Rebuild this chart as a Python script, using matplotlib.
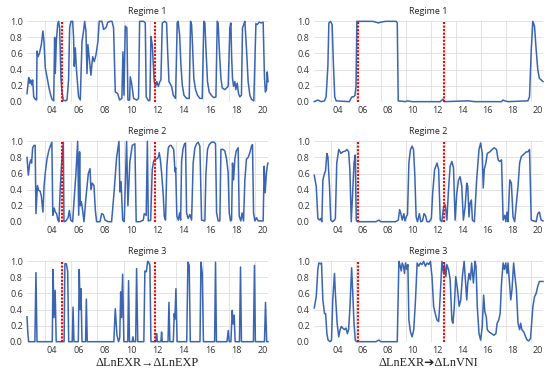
import matplotlib
matplotlib.use('Agg')
import matplotlib.pyplot as plt

# Regime probabilities, x = year (04 = 2004), y = probability
exp_r1 = [(2.10, 0.10), (2.23, 0.30), (2.30, 0.23), (2.38, 0.27), (2.45, 0.21), (2.53, 0.27), (2.61, 0.06),
          (2.73, 0.03), (2.83, 0.02), (2.86, 0.63), (2.94, 0.56), (3.04, 0.60), (3.19, 0.71), (3.31, 0.88),
          (3.39, 0.75), (3.49, 0.42), (3.62, 0.31), (3.75, 0.19), (3.87, 0.10), (4.00, 0.03), (4.13, 0.01),
          (4.20, 0.80), (4.25, 0.35), (4.33, 0.75), (4.43, 0.96), (4.50, 1.00), (4.58, 0.92), (4.68, 0.29),
          (4.76, 0.12), (4.86, 0.02), (5.01, 0.01), (5.14, 0.02), (5.26, 0.27), (5.34, 0.92), (5.44, 1.00),
          (5.57, 1.00), (5.64, 0.80), (5.69, 0.44), (5.77, 0.67), (5.85, 0.42), (5.95, 0.21), (6.02, 0.06),
          (6.15, 0.02), (6.28, 0.75), (6.40, 0.88), (6.48, 1.00), (6.58, 0.88), (6.66, 0.35), (6.73, 0.71),
          (6.86, 0.50), (6.96, 0.33), (7.09, 0.56), (7.21, 0.50), (7.34, 0.58), (7.49, 0.75), (7.59, 1.00),
          (7.80, 1.00), (7.92, 0.90), (8.10, 0.92), (8.25, 0.99), (8.43, 1.00), (8.56, 1.00), (8.68, 0.92),
          (8.81, 0.12), (8.99, 0.10), (9.14, 0.02), (9.31, 0.04), (9.39, 0.62), (9.47, 0.08), (9.57, 0.94),
          (9.69, 0.92), (9.77, 0.02), (9.90, 0.02), (9.95, 0.31), (10.07, 0.21), (10.20, 0.04), (10.45, 0.02),
          (10.58, 0.04), (10.66, 1.00), (10.96, 1.00), (11.09, 0.98), (11.16, 0.06), (11.34, 0.01), (11.44, 0.02),
          (11.52, 0.81), (11.62, 0.71), (11.77, 0.25), (11.87, 0.19), (11.97, 0.25), (12.08, 0.19), (12.20, 0.25),
          (12.28, 0.27), (12.38, 0.98), (12.58, 1.00), (12.71, 0.98), (12.78, 0.67), (12.89, 0.25), (13.09, 0.19),
          (13.22, 0.08), (13.39, 0.04), (13.52, 0.98), (13.59, 1.00), (13.70, 0.83), (13.80, 0.46), (13.90, 0.21),
          (14.03, 0.08), (14.23, 0.04), (14.43, 0.04), (14.53, 1.00), (14.61, 0.96), (14.68, 0.71), (14.78, 0.29),
          (14.91, 0.15), (15.06, 0.08), (15.24, 0.04), (15.42, 0.04), (15.54, 1.00), (15.62, 0.98), (15.70, 0.67),
          (15.82, 0.25), (15.95, 0.12), (16.13, 0.075), (16.30, 0.05), (16.46, 0.06), (16.56, 1.00), (16.63, 0.98),
          (16.71, 0.67), (16.84, 0.29), (16.94, 0.17), (17.14, 0.15), (17.39, 0.19), (17.52, 0.92), (17.60, 0.98),
          (17.65, 0.58), (17.72, 0.29), (17.80, 0.19), (17.90, 0.25), (17.97, 0.15), (18.08, 0.23), (18.18, 0.10),
          (18.28, 0.06), (18.40, 0.08), (18.48, 0.92), (18.58, 0.96), (18.66, 1.00), (18.78, 0.67), (18.91, 0.25),
          (19.04, 0.08), (19.16, 0.03), (19.34, 0.01), (19.50, 0.97), (19.60, 0.96), (19.75, 0.99), (19.90, 0.98),
          (20.05, 0.99), (20.15, 0.30), (20.22, 0.12), (20.30, 0.15), (20.36, 0.37), (20.42, 0.25)]

exp_r2 = [(2.10, 0.80), (2.20, 0.58), (2.30, 0.72), (2.38, 0.77), (2.45, 0.73), (2.53, 0.92), (2.63, 0.95),
          (2.72, 0.95), (2.78, 0.10), (2.89, 0.45), (2.99, 0.39), (3.10, 0.38), (3.19, 0.32), (3.31, 0.12),
          (3.40, 0.45), (3.49, 0.61), (3.62, 0.78), (3.75, 0.88), (3.87, 0.94), (3.99, 0.99), (4.06, 0.08),
          (4.16, 0.17), (4.25, 0.12), (4.35, 0.10), (4.45, 0.02), (4.53, 0.00), (4.62, 0.40), (4.73, 0.72),
          (4.86, 0.99), (4.91, 0.00), (5.06, 0.01), (5.22, 0.05), (5.32, 0.14), (5.42, 0.02), (5.57, 0.00),
          (5.67, 0.25), (5.82, 0.60), (5.95, 1.00), (6.03, 0.08), (6.10, 0.87), (6.15, 0.20), (6.23, 0.25),
          (6.32, 0.15), (6.43, 0.00), (6.58, 0.30), (6.76, 0.60), (6.89, 0.66), (6.96, 0.40), (7.06, 0.48),
          (7.19, 0.45), (7.29, 0.15), (7.39, 0.00), (7.65, 0.00), (7.77, 0.10), (7.90, 0.09), (8.03, 0.02),
          (8.28, 0.00), (8.53, 0.00), (8.71, 0.35), (8.91, 0.80), (9.09, 1.00), (9.16, 0.37), (9.25, 0.50),
          (9.37, 0.02), (9.49, 0.00), (9.67, 1.00), (9.77, 0.20), (9.92, 0.75), (10.10, 0.95), (10.30, 0.97),
          (10.40, 0.00), (10.68, 0.00), (10.94, 0.02), (11.01, 0.10), (11.16, 0.08), (11.25, 1.00), (11.32, 0.01),
          (11.50, 0.02), (11.62, 0.65), (11.72, 0.75), (11.82, 0.78), (11.95, 0.78), (12.08, 0.80), (12.15, 0.86),
          (12.23, 0.78), (12.33, 0.61), (12.46, 0.32), (12.53, 0.07), (12.63, 0.02), (12.73, 0.69), (12.84, 0.92),
          (12.96, 0.95), (13.05, 0.95), (13.25, 0.90), (13.35, 0.62), (13.40, 0.67), (13.49, 0.07), (13.60, 0.02),
          (13.70, 0.11), (13.78, 0.02), (13.85, 0.75), (13.95, 0.90), (14.05, 0.96), (14.15, 0.98), (14.23, 0.11),
          (14.35, 0.04), (14.48, 0.09), (14.61, 0.02), (14.73, 0.73), (14.86, 0.92), (14.99, 0.97), (15.11, 0.99),
          (15.24, 0.94), (15.37, 0.02), (15.62, 0.01), (15.70, 0.60), (15.82, 0.90), (15.95, 0.96), (16.13, 0.99),
          (16.33, 0.99), (16.43, 0.97), (16.51, 0.11), (16.63, 0.01), (16.76, 0.01), (16.84, 0.90), (17.01, 0.90),
          (17.14, 0.88), (17.27, 0.78), (17.39, 0.61), (17.47, 0.11), (17.58, 0.01), (17.65, 0.02), (17.72, 0.73),
          (17.80, 0.52), (17.90, 0.78), (18.00, 0.88), (18.15, 0.92), (18.23, 0.07), (18.35, 0.01), (18.45, 0.11),
          (18.56, 0.01), (18.66, 0.52), (18.78, 0.78), (18.91, 0.80), (19.04, 0.86), (19.16, 0.94), (19.24, 0.96),
          (19.32, 0.11), (19.42, 0.01), (19.54, 0.05), (19.67, 0.01), (20.05, 0.01), (20.13, 0.69), (20.20, 0.36),
          (20.30, 0.61), (20.38, 0.71), (20.42, 0.73)]

exp_r3 = [(2.10, 0.31), (2.16, 0.12), (2.22, 0.00), (2.70, 0.00), (2.78, 0.86), (2.86, 0.00), (4.02, 0.00),
          (4.08, 0.90), (4.15, 0.30), (4.24, 0.64), (4.32, 0.00), (4.92, 0.00), (4.98, 0.97), (5.09, 0.97),
          (5.19, 0.88), (5.27, 0.00), (5.54, 0.00), (5.60, 0.43), (5.67, 0.00), (6.00, 0.00), (6.07, 0.90),
          (6.14, 0.40), (6.20, 0.66), (6.28, 0.00), (6.55, 0.00), (6.61, 0.53), (6.68, 0.00), (8.70, 0.00),
          (8.81, 0.41), (8.94, 0.08), (9.06, 0.00), (9.15, 0.05), (9.22, 0.62), (9.28, 0.30), (9.37, 0.84),
          (9.46, 0.00), (9.76, 0.00), (9.82, 0.76), (9.89, 0.00), (10.10, 0.00), (10.15, 0.06), (10.22, 0.00),
          (10.36, 0.00), (10.43, 0.91), (10.52, 0.00), (10.98, 0.00), (11.06, 0.88), (11.17, 0.87), (11.27, 1.00),
          (11.34, 0.99), (11.44, 0.95), (11.52, 0.00), (11.90, 0.00), (11.95, 0.10), (12.01, 0.00), (12.28, 0.00),
          (12.33, 0.12), (12.38, 0.00), (12.82, 0.00), (12.89, 0.49), (12.96, 0.00), (13.22, 0.00), (13.29, 0.35),
          (13.34, 0.28), (13.42, 0.66), (13.51, 0.00), (14.24, 0.00), (14.33, 0.99), (14.43, 0.95), (14.51, 0.00),
          (15.25, 0.00), (15.32, 0.99), (15.42, 0.86), (15.51, 0.00), (16.36, 0.00), (16.43, 0.99), (16.50, 0.00),
          (17.30, 0.00), (17.40, 0.14), (17.47, 0.00), (17.60, 0.00), (17.70, 0.39), (17.77, 0.22), (17.85, 0.33),
          (17.92, 0.00), (18.25, 0.00), (18.33, 0.93), (18.40, 0.00), (19.31, 0.00), (19.39, 0.95), (19.46, 0.00),
          (20.15, 0.00), (20.23, 0.49), (20.32, 0.00), (20.42, 0.00)]

vni_r1 = [(2.12, 0.00), (2.41, 0.02), (2.68, 0.00), (2.94, 0.01), (3.07, 0.06), (3.21, 0.44), (3.29, 0.98),
          (3.42, 1.00), (3.55, 0.96), (3.66, 0.44), (3.76, 0.06), (3.87, 0.01), (4.93, 0.00), (5.06, 0.04),
          (5.14, 0.06), (5.27, 0.06), (5.38, 0.08), (5.46, 0.19), (5.53, 1.00), (6.78, 1.00), (7.04, 0.99),
          (7.25, 0.98), (7.44, 0.99), (7.84, 1.00), (8.68, 1.00), (8.76, 0.98), (8.84, 0.01), (9.42, 0.00),
          (9.56, 0.01), (9.95, 0.00), (12.20, 0.00), (12.41, 0.03), (12.52, 0.00), (14.45, 0.01), (14.98, 0.00),
          (17.10, 0.00), (17.23, 0.02), (17.36, 0.01), (17.62, 0.00), (19.21, 0.01), (19.34, 0.06), (19.48, 0.65),
          (19.61, 1.00), (19.74, 0.94), (19.87, 0.65), (20.00, 0.40), (20.13, 0.29), (20.27, 0.27), (20.42, 0.25)]

vni_r2 = [(2.12, 0.58), (2.28, 0.44), (2.41, 0.04), (2.55, 0.02), (2.63, 0.04), (2.73, 0.00), (2.81, 0.52),
          (2.94, 0.60), (3.02, 0.63), (3.13, 0.85), (3.21, 0.81), (3.34, 0.44), (3.44, 0.02), (3.60, 0.00),
          (3.74, 0.02), (3.81, 0.04), (3.92, 0.73), (4.08, 0.90), (4.26, 0.85), (4.40, 0.87), (4.60, 0.88),
          (4.74, 0.90), (4.87, 0.87), (4.97, 0.65), (5.08, 0.00), (5.19, 0.35), (5.30, 0.73), (5.40, 0.83),
          (5.48, 0.02), (5.59, 0.00), (7.04, 0.00), (7.31, 0.02), (7.44, 0.00), (8.63, 0.00), (8.84, 0.02),
          (8.95, 0.15), (9.05, 0.10), (9.16, 0.02), (9.29, 0.10), (9.38, 0.01), (9.48, 0.06), (9.58, 0.09),
          (9.69, 0.73), (9.82, 0.90), (9.95, 0.94), (10.06, 0.90), (10.16, 0.60), (10.27, 0.06), (10.38, 0.00),
          (10.53, 0.10), (10.64, 0.00), (10.78, 0.01), (10.90, 0.10), (11.01, 0.08), (11.14, 0.00), (11.33, 0.00),
          (11.49, 0.04), (11.59, 0.35), (11.75, 0.65), (11.94, 0.73), (12.07, 0.65), (12.20, 0.02), (12.33, 0.00),
          (12.47, 0.19), (12.60, 0.21), (12.73, 0.02), (12.86, 0.40), (12.99, 0.69), (13.13, 0.75), (13.26, 0.67),
          (13.39, 0.02), (13.52, 0.35), (13.66, 0.52), (13.79, 0.56), (13.92, 0.44), (14.05, 0.02), (14.19, 0.19),
          (14.32, 0.48), (14.40, 0.44), (14.50, 0.06), (14.58, 0.23), (14.69, 0.27), (14.77, 0.02), (14.93, 0.00),
          (15.11, 0.52), (15.30, 0.90), (15.43, 0.98), (15.56, 0.85), (15.64, 0.42), (15.72, 0.65), (15.85, 0.73),
          (15.96, 0.85), (16.17, 0.87), (16.35, 0.90), (16.51, 0.92), (16.70, 0.90), (16.83, 0.77), (16.96, 0.75),
          (17.10, 0.77), (17.23, 0.02), (17.36, 0.08), (17.45, 0.00), (17.54, 0.12), (17.62, 0.00), (17.76, 0.52),
          (17.89, 0.48), (18.02, 0.06), (18.15, 0.00), (18.29, 0.23), (18.42, 0.44), (18.55, 0.73), (18.68, 0.81),
          (18.81, 0.83), (18.95, 0.85), (19.08, 0.87), (19.21, 0.87), (19.34, 0.90), (19.48, 0.02), (19.87, 0.00),
          (20.00, 0.10), (20.13, 0.12), (20.27, 0.02), (20.42, 0.01)]

vni_r3 = [(2.12, 0.42), (2.28, 0.56), (2.41, 0.90), (2.49, 0.98), (2.62, 0.97), (2.70, 0.98), (2.81, 0.52),
          (2.94, 0.35), (3.03, 0.35), (3.13, 0.10), (3.23, 0.02), (3.39, 0.00), (3.50, 0.02), (3.60, 0.52),
          (3.74, 0.85), (3.81, 0.60), (3.95, 0.23), (4.08, 0.06), (4.19, 0.15), (4.29, 0.19), (4.40, 0.17),
          (4.53, 0.15), (4.66, 0.17), (4.77, 0.10), (4.87, 0.15), (4.98, 0.44), (5.11, 0.92), (5.19, 0.65),
          (5.30, 0.23), (5.40, 0.02), (5.51, 0.00), (7.04, 0.00), (7.31, 0.02), (7.44, 0.00), (8.76, 0.00),
          (8.89, 1.00), (8.97, 0.96), (9.08, 0.88), (9.16, 0.98), (9.26, 0.94), (9.34, 0.85), (9.42, 0.98),
          (9.53, 0.90), (9.61, 0.96), (9.69, 0.27), (9.82, 0.12), (9.95, 0.06), (10.08, 0.15), (10.22, 0.52),
          (10.35, 0.98), (10.48, 0.94), (10.61, 0.98), (10.74, 0.96), (10.87, 1.00), (11.01, 0.94), (11.14, 0.98),
          (11.28, 0.96), (11.41, 1.00), (11.54, 0.81), (11.67, 0.44), (11.80, 0.35), (11.94, 0.27), (12.07, 0.25),
          (12.15, 0.44), (12.25, 0.73), (12.33, 1.00), (12.47, 0.85), (12.54, 0.96), (12.65, 0.81), (12.73, 0.96),
          (12.86, 0.90), (12.99, 0.78), (13.13, 0.27), (13.21, 0.23), (13.31, 0.40), (13.44, 0.81), (13.58, 0.65),
          (13.71, 0.44), (13.84, 0.52), (13.97, 0.81), (14.11, 1.00), (14.19, 0.81), (14.32, 0.52), (14.40, 0.73),
          (14.50, 0.85), (14.61, 0.77), (14.71, 0.98), (14.85, 0.73), (14.98, 1.00), (15.06, 0.94), (15.16, 0.44),
          (15.30, 0.10), (15.43, 0.02), (15.56, 0.19), (15.67, 0.58), (15.77, 0.37), (15.88, 0.31), (15.96, 0.15),
          (16.12, 0.12), (16.30, 0.10), (16.49, 0.08), (16.65, 0.10), (16.75, 0.23), (16.88, 0.27), (16.99, 0.35),
          (17.10, 0.73), (17.23, 0.98), (17.33, 0.90), (17.44, 0.98), (17.54, 0.85), (17.62, 0.98), (17.76, 0.69),
          (17.84, 0.52), (17.94, 0.65), (18.07, 0.98), (18.15, 0.85), (18.29, 0.65), (18.42, 0.23), (18.55, 0.15),
          (18.63, 0.23), (18.73, 0.15), (18.89, 0.12), (19.03, 0.06), (19.16, 0.02), (19.29, 0.01), (19.42, 0.04),
          (19.61, 0.44), (19.74, 0.56), (19.87, 0.60), (20.00, 0.69), (20.13, 0.75), (20.42, 0.75)]

titles = ['Regime 1', 'Regime 2', 'Regime 3']
exp_breaks = [4.78, 11.82]
vni_breaks = [5.59, 12.47]
year_ticks = [4, 6, 8, 10, 12, 14, 16, 18, 20]
year_labels = ['04', '06', '08', '10', '12', '14', '16', '18', '20']

blue = '#3a65b3'
grid_col = '#dedede'
text_col = '#333333'

fig = plt.figure(figsize=(5.5, 3.71), dpi=100)

rows_bottom = [0.726, 0.4024, 0.079]
row_h = 0.2165
cols = [(0.0491, 0.4382, [exp_r1, exp_r2, exp_r3], exp_breaks),
        (0.5709, 0.4164, [vni_r1, vni_r2, vni_r3], vni_breaks)]

for left, width, series, breaks in cols:
    for i, data in enumerate(series):
        ax = fig.add_axes([left, rows_bottom[i], width, row_h])
        xs = [p[0] for p in data]
        ys = [p[1] for p in data]
        ax.plot(xs, ys, color=blue, lw=1.1, clip_on=False, zorder=3)
        for b in breaks:
            ax.plot([b, b], [0, 1], color='#ff0000', lw=1.5, ls=(0, (1.0, 0.7)), zorder=4)
        ax.set_xlim(2.1, 20.42)
        ax.set_ylim(0, 1)
        ax.set_xticks(year_ticks)
        ax.set_xticklabels(year_labels)
        ax.set_xticks([y - 0.55 for y in year_ticks], minor=True)
        ax.set_yticks([0, 0.2, 0.4, 0.6, 0.8, 1.0])
        ax.set_yticklabels(['0.0', '0.2', '0.4', '0.6', '0.8', '1.0'])
        ax.grid(axis='y', color=grid_col, lw=0.6)
        ax.grid(axis='x', which='minor', color=grid_col, lw=0.6)
        ax.grid(axis='x', which='major', visible=False)
        for s in ax.spines.values():
            s.set_visible(False)
        ax.tick_params(which='both', length=0, labelsize=6.5, colors=text_col, pad=3)
        for lab in ax.get_xticklabels() + ax.get_yticklabels():
            lab.set_fontfamily('Open Sans')
        ax.set_title(titles[i], fontsize=6.5, color='#222222', pad=5, fontfamily='Open Sans')

lab_font = ['Liberation Serif', 'DejaVu Sans']
fig.text(0.268, 0.021, 'ΔLnEXR→ΔLnEXP', ha='center', va='center', fontsize=8.8,
         family=lab_font, color='#222222')
fig.text(0.778, 0.021, 'ΔLnEXR➔ΔLnVNI', ha='center', va='center', fontsize=8.8,
         family=lab_font, color='#222222')

fig.savefig('out.png', dpi=100)
